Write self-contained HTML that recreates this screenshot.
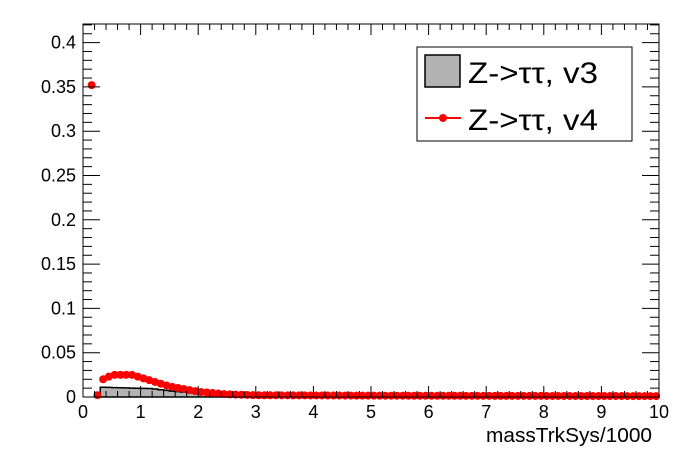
<!DOCTYPE html>
<html><head><meta charset="utf-8"><style>
body{margin:0;background:#fff}
svg{display:block;font-family:"Liberation Sans",sans-serif}
</style></head><body>
<svg id="s" width="696" height="472" xmlns="http://www.w3.org/2000/svg">
<rect width="696" height="472" fill="#fff"/>
<g id="hist"></g>
<g id="pts"></g>
<rect x="83" y="24" width="576" height="373" fill="none" stroke="#000" stroke-width="1"/>
<g id="ticks" stroke="#000" stroke-width="1"></g>
<g font-size="18" fill="#000" text-anchor="end" id="ylab"></g>
<g font-size="18" fill="#000" text-anchor="middle" id="xlab"></g>
<text x="652" y="442" font-size="20" text-anchor="end" textLength="166" lengthAdjust="spacingAndGlyphs">massTrkSys/1000</text>
<rect x="417" y="47" width="215" height="94" fill="#fff" stroke="#000"/>
<rect x="425" y="55" width="35" height="32" fill="#b3b3b3" stroke="#000" stroke-width="1.5"/>
<text x="468" y="83" font-size="30" textLength="130" lengthAdjust="spacingAndGlyphs">Z-&gt;ττ, v3</text>
<line x1="425" y1="118" x2="461" y2="118" stroke="#f00" stroke-width="2"/>
<circle cx="443" cy="118" r="4" fill="#f00"/>
<text x="468" y="130" font-size="30" textLength="130" lengthAdjust="spacingAndGlyphs">Z-&gt;ττ, v4</text>
</svg>
<script>
const NS="http://www.w3.org/2000/svg";
const X=v=>83+v*57.6, Y=v=>397-v*886;
function el(p,t,a){const e=document.createElementNS(NS,t);for(const k in a)e.setAttribute(k,a[k]);document.getElementById(p).appendChild(e);}
function interp(x,pts){if(x<=pts[0][0])return pts[0][1];for(let i=0;i<pts.length-1;i++){if(x<=pts[i+1][0]){const[a,b]=pts[i],[c,d]=pts[i+1];return b+(d-b)*(x-a)/(c-a);}}return pts[pts.length-1][1];}
const red=[[0.35,0.020],[0.45,0.023],[0.55,0.025],[0.85,0.025],[1.0,0.022],[1.2,0.018],[1.5,0.012],[2.0,0.006],[2.5,0.003],[3,0.002],[5,0.0015],[10,0.001]];
const gray=[[0.35,0.011],[0.6,0.0105],[1.2,0.0095],[1.5,0.007],[2.0,0.004],[2.5,0.002],[3,0.001],[5,0.0005],[10,0.0002]];
let d="M"+X(0.3)+","+Y(0);
for(let i=3;i<100;i++){const c=i*0.1+0.05;const v=interp(c,gray);d+=" L"+X(i*0.1)+","+Y(v)+" L"+X(i*0.1+0.1)+","+Y(v);}
d+=" L"+X(10)+","+Y(0)+" Z";
el("hist","path",{d:d,fill:"#b3b3b3",stroke:"#000","stroke-width":1.5});
for(let i=1;i<100;i++){const c=i*0.1+0.05;let v;
 if(i==1)v=0.352;else if(i==2)v=0.002;else v=interp(c,red);
 el("pts","circle",{cx:X(c),cy:Y(v),r:4,fill:"#f00"});
 el("pts","line",{x1:X(i*0.1),x2:X(i*0.1+0.1),y1:Y(v),y2:Y(v),stroke:"#f00","stroke-width":1.5});}
for(let i=0;i<=50;i++){const x=X(i*0.2);const L=(i%5==0)?11:6;
 el("ticks","line",{x1:x,x2:x,y1:397,y2:397-L});el("ticks","line",{x1:x,x2:x,y1:24,y2:24+L});}
for(let i=0;i<=42;i++){const y=Y(i*0.01);if(y<24)break;const L=(i%5==0)?17:9;
 el("ticks","line",{x1:83,x2:83+L,y1:y,y2:y});el("ticks","line",{x1:659,x2:659-L,y1:y,y2:y});}
const yl=["0","0.05","0.1","0.15","0.2","0.25","0.3","0.35","0.4"];
yl.forEach((t,i)=>{const e=document.createElementNS(NS,"text");e.setAttribute("x",76);e.setAttribute("y",Y(i*0.05)+6);e.textContent=t;document.getElementById("ylab").appendChild(e);});
for(let i=0;i<=10;i++){const e=document.createElementNS(NS,"text");e.setAttribute("x",X(i));e.setAttribute("y",418);e.textContent=i;document.getElementById("xlab").appendChild(e);}
</script>
</body></html>
